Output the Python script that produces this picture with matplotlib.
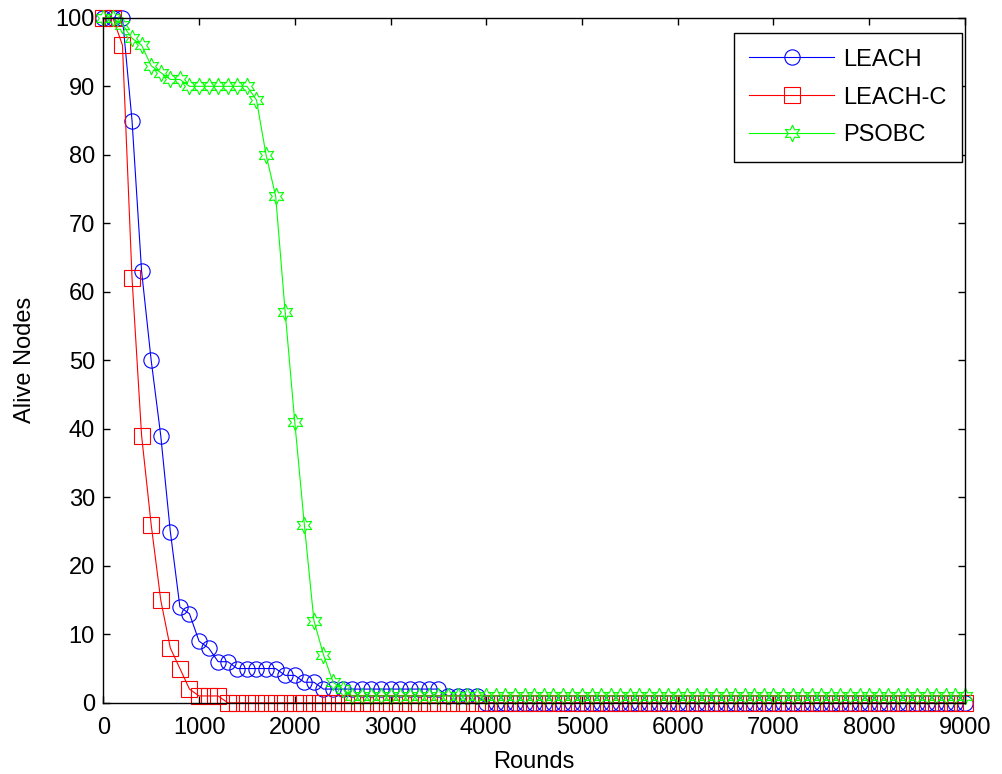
import matplotlib.pyplot as plt
from matplotlib import rcParams

rcParams['font.family'] = ['Liberation Sans', 'DejaVu Sans']

# rounds sampled every 100
rounds = list(range(0, 9100, 100))

leach = [100, 100, 100, 85, 63, 50, 39, 25, 14, 13,
         9, 8, 6, 6, 5, 5, 5, 5, 5, 4,
         4, 3, 3, 2, 2, 2, 2, 2, 2, 2,
         2, 2, 2, 2, 2, 2, 1, 1, 1, 1,
         0, 0, 0, 0, 0, 0, 0, 0, 0, 0,
         0, 0, 0, 0, 0, 0, 0, 0, 0, 0,
         0, 0, 0, 0, 0, 0, 0, 0, 0, 0,
         0, 0, 0, 0, 0, 0, 0, 0, 0, 0,
         0, 0, 0, 0, 0, 0, 0, 0, 0, 0,
         0]

leach_c = [100, 100, 96, 62, 39, 26, 15, 8, 5, 2,
           1, 1, 1, 0, 0, 0, 0, 0, 0, 0,
           0, 0, 0, 0, 0, 0, 0, 0, 0, 0,
           0, 0, 0, 0, 0, 0, 0, 0, 0, 0,
           0, 0, 0, 0, 0, 0, 0, 0, 0, 0,
           0, 0, 0, 0, 0, 0, 0, 0, 0, 0,
           0, 0, 0, 0, 0, 0, 0, 0, 0, 0,
           0, 0, 0, 0, 0, 0, 0, 0, 0, 0,
           0, 0, 0, 0, 0, 0, 0, 0, 0, 0,
           0]

psobc = [100, 100, 99, 97, 96, 93, 92, 91, 91, 90,
         90, 90, 90, 90, 90, 90, 88, 80, 74, 57,
         41, 26, 12, 7, 3, 2, 1, 1, 1, 1,
         1, 1, 1, 1, 1, 1, 1, 1, 1, 1,
         1, 1, 1, 1, 1, 1, 1, 1, 1, 1,
         1, 1, 1, 1, 1, 1, 1, 1, 1, 1,
         1, 1, 1, 1, 1, 1, 1, 1, 1, 1,
         1, 1, 1, 1, 1, 1, 1, 1, 1, 1,
         1, 1, 1, 1, 1, 1, 1, 1, 1, 1,
         1]

fig = plt.figure(figsize=(10.03, 7.74), dpi=100)
ax = fig.add_axes([0.103, 0.092, 0.859, 0.885])

ax.plot(rounds, leach, color='b', linewidth=0.8, marker='o', markerfacecolor='none',
        markersize=11, markeredgewidth=0.8, label='LEACH', clip_on=False)
ax.plot(rounds, leach_c, color='r', linewidth=0.8, marker='s', markerfacecolor='none',
        markersize=11, markeredgewidth=0.8, label='LEACH-C', clip_on=False)
ax.plot(rounds, psobc, color='#00ff00', linewidth=0.8, marker=(6, 1, 0), markerfacecolor='none',
        markersize=12, markeredgewidth=0.8, label='PSOBC', clip_on=False)

ax.set_xlim(0, 9000)
ax.set_ylim(0, 100)
ax.set_xticks(range(0, 9001, 1000))
ax.set_yticks(range(0, 101, 10))
ax.tick_params(direction='in', top=True, right=True, labelsize=17, length=5, width=1)
ax.tick_params(axis='x', pad=10)
ax.tick_params(axis='y', pad=6)
for s in ax.spines.values():
    s.set_linewidth(1)

ax.set_xlabel('Rounds', fontsize=17, labelpad=9)
ax.set_ylabel('Alive Nodes', fontsize=17, labelpad=14)

leg = ax.legend(loc='upper right', bbox_to_anchor=(0.9965, 0.978), borderaxespad=0,
                fontsize=17, fancybox=False, edgecolor='k', framealpha=1,
                handlelength=3.6, handletextpad=0.35, labelspacing=0.67,
                borderpad=0.67)
leg.get_frame().set_linewidth(1)

plt.savefig('out.png', dpi=100)
